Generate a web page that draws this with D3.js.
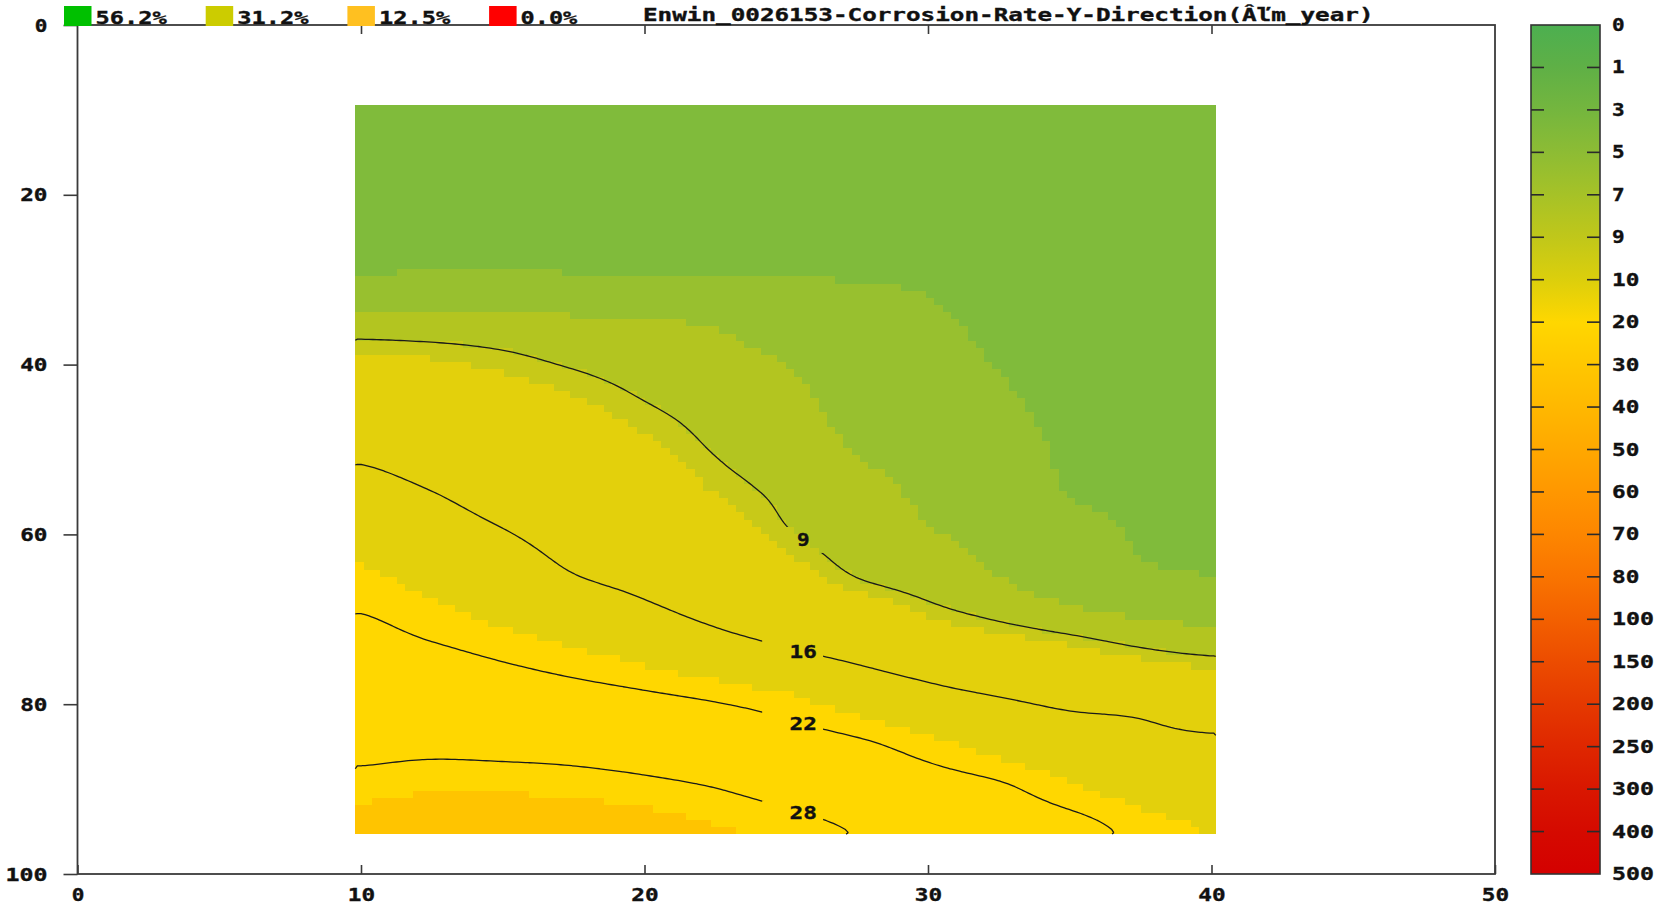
<!DOCTYPE html>
<html><head><meta charset="utf-8">
<script src="https://cdn.jsdelivr.net/npm/d3@7"></script>
<style>
html,body{margin:0;padding:0;background:#fff;}
svg{display:block;}
text{font-family:"DejaVu Sans Mono","Liberation Mono",monospace;font-weight:bold;font-size:17px;fill:#111;stroke:#111;stroke-width:0.35px;}
</style></head><body>
<svg id="chart" width="1659" height="908"></svg>
<script>
// ---------------- data ----------------
const titleText = "Enwin_0026153-Corrosion-Rate-Y-Direction(Âľm_year)";
const legendLabels = ["56.2%", "31.2%", "12.5%", "0.0%"];
const legendColors = ["#00c000", "#cccc00", "#ffc020", "#ff0000"];
const xTicks = [0, 10, 20, 30, 40, 50];
const yTicks = [0, 20, 40, 60, 80, 100];
const colorTicks = [0, 1, 3, 5, 7, 9, 10, 20, 30, 40, 50, 60, 70, 80, 100, 150, 200, 250, 300, 400, 500];
const colorbarColors = ["#4caf50", "#5fb046", "#74b63e", "#8dbc34", "#a6c227", "#c0c71a", "#dccf0c", "#ffd700", "#ffc700", "#ffb800", "#ffa800", "#ff9700", "#fd8600", "#f97400", "#f36000", "#ec4c00", "#e53900", "#df2700", "#d91700", "#d50a00", "#d40000"];
const bandColors = ["#4caf50", "#63b246", "#80bb3b", "#98c02f", "#b3c520", "#c8c918", "#e3d00c", "#ffd700", "#ffc400", "#ffb300", "#ffa400", "#ff9300", "#fd8200", "#f87000", "#f25c00", "#ea4800", "#e33500", "#dd2400", "#d81400", "#d50800", "#d40000"];
const contourLevels = [9, 16, 22, 28];

// measurement grid (x across, y down) and corrosion rate per column
const gridX = [10, 12.5, 15, 17.5, 20, 22.5, 25, 27.5, 30, 32.5, 35, 37.5, 40];
const gridY = [10, 15, 20, 25, 30, 35, 40, 45, 50, 55, 60, 65, 70, 75, 80, 85, 90, 95];
const rateX10   = [3.5, 3.85, 4.15, 4.5, 5.1, 7.88, 10.61, 12.95, 15.30, 17.16, 18.81, 20.49, 22.23, 23.87, 25.51, 27.15, 29.12, 31.4];
const rateX12_5 = [3.5, 3.85, 4.15, 4.5, 5.35, 7.77, 10.31, 12.22, 14.13, 16.03, 17.55, 19.06, 20.86, 23.06, 25.17, 27.28, 29.83, 32.6];
const rateX15   = [3.5, 3.85, 4.15, 4.5, 5.35, 7.64, 9.64, 11.31, 12.95, 14.59, 16.24, 17.92, 19.6, 22.0, 24.54, 27.08, 29.73, 32.4];
const rateX17_5 = [3.5, 3.9, 4.3, 4.7, 5.15, 7.28, 8.82, 10.45, 11.86, 13.27, 14.68, 16.14, 18.41, 20.91, 23.86, 26.78, 29.41, 31.9];
const rateX20   = [3.5, 3.9, 4.35, 4.8, 5.08, 7.05, 8.09, 9.17, 10.59, 12.08, 13.56, 15.05, 16.99, 19.75, 23.09, 26.12, 28.86, 31.1];
const rateX22_5 = [3.5, 3.9, 4.4, 4.9, 5.05, 6.85, 7.51, 8.19, 8.86, 9.93, 11.77, 13.66, 15.55, 18.34, 22.18, 25.13, 28.07, 30.26];
const rateX25   = [3.5, 3.9, 4.4, 4.9, 5.02, 6.07, 7.0, 7.52, 8.04, 8.56, 9.23, 11.29, 14.09, 17.08, 20.9, 23.94, 26.72, 29.25];
const rateX27_5 = [3.5, 3.85, 4.2, 4.6, 4.98, 5.47, 5.95, 6.43, 6.91, 7.61, 8.0, 8.95, 12.47, 15.8, 18.98, 22.76, 25.28, 27.8];
const rateX30   = [3.4, 3.76, 4.13, 4.49, 4.85, 5.22, 5.58, 5.95, 6.31, 6.68, 7.15, 7.9, 10.2, 14.38, 17.61, 20.88, 23.8, 26.0];
const rateX32_5 = [3.35, 3.61, 3.88, 4.14, 4.4, 4.67, 4.93, 5.31, 5.73, 6.15, 6.57, 6.99, 8.85, 12.92, 16.56, 19.13, 22.61, 24.8];
const rateX35   = [3.3, 3.48, 3.67, 3.85, 4.03, 4.21, 4.4, 4.58, 4.76, 4.95, 5.59, 6.0, 7.8, 11.58, 15.53, 17.98, 20.4, 23.4];
const rateX37_5 = [3.25, 3.42, 3.59, 3.75, 3.92, 4.09, 4.26, 4.43, 4.59, 4.76, 4.9, 5.3, 7.06, 10.24, 15.1, 17.06, 18.9, 21.2];
const rateX40   = [3.2, 3.37, 3.53, 3.7, 3.86, 4.03, 4.19, 4.36, 4.52, 4.69, 4.92, 5.05, 6.7, 9.47, 13.8, 16.8, 18.35, 19.93];
const rateColumns = [rateX10, rateX12_5, rateX15, rateX17_5, rateX20, rateX22_5, rateX25, rateX27_5, rateX30, rateX32_5, rateX35, rateX37_5, rateX40];

// ---------------- layout ----------------
const FR = {left: 77.5, right: 1495, top: 25, bottom: 874};
const CHAR_W = 14.65;
const svg = d3.select("#chart");
const x = d3.scaleLinear().domain([0, 50]).range([FR.left, FR.right]);
const y = d3.scaleLinear().domain([0, 100]).range([FR.top, FR.bottom]);
const tl = s => s.length * CHAR_W - 2;

// smooth (Catmull-Rom) surface through the measured grid
function cr(p0, p1, p2, p3, t) {
  return p1 + 0.5 * t * (p2 - p0 + t * (2 * p0 - 5 * p1 + 4 * p2 - p3 + t * (3 * (p1 - p2) + p3 - p0)));
}
function rateAt(px, py) {
  const nx = gridX.length, ny = gridY.length;
  const cx = Math.max(gridX[0], Math.min(gridX[nx - 1], px));
  const cy = Math.max(gridY[0], Math.min(gridY[ny - 1], py));
  const i = Math.max(0, Math.min(nx - 2, d3.bisectRight(gridX, cx) - 1));
  const j = Math.max(0, Math.min(ny - 2, d3.bisectRight(gridY, cy) - 1));
  const tx = (cx - gridX[i]) / (gridX[i + 1] - gridX[i]);
  const ty = (cy - gridY[j]) / (gridY[j + 1] - gridY[j]);
  const ci = k => Math.max(0, Math.min(nx - 1, k));
  const cj = k => Math.max(0, Math.min(ny - 1, k));
  const colV = k => {
    const c = rateColumns[ci(k)];
    return cr(c[cj(j - 1)], c[cj(j)], c[cj(j + 1)], c[cj(j + 2)], ty);
  };
  return cr(colV(i - 1), colV(i), colV(i + 1), colV(i + 2), tx);
}

// raster extent (slight padding around measurement grid)
const ext = {x0: gridX[0] - 0.2, x1: gridX[gridX.length - 1] + 0.15, y0: gridY[0] - 0.6, y1: gridY[gridY.length - 1] + 0.3};

// ---------------- raster fill ----------------
const NX = 104, NY = 102;
const dxs = (ext.x1 - ext.x0) / NX, dys = (ext.y1 - ext.y0) / NY;
const bandOf = v => Math.max(0, d3.bisectRight(colorTicks, v) - 1);
const runs = [];
for (let j = 0; j < NY; j++) {
  let start = 0, cur = -1;
  for (let i = 0; i <= NX; i++) {
    const b = i < NX ? bandOf(rateAt(ext.x0 + (i + 0.5) * dxs, ext.y0 + (j + 0.5) * dys)) : -2;
    if (b !== cur) {
      if (cur >= 0) runs.push({j, i0: start, i1: i, band: cur});
      cur = b; start = i;
    }
  }
}
svg.append("g").attr("shape-rendering", "crispEdges")
  .selectAll("rect").data(runs).join("rect")
  .attr("x", d => Math.round(x(ext.x0 + d.i0 * dxs)))
  .attr("y", d => Math.round(y(ext.y0 + d.j * dys)))
  .attr("width", d => Math.round(x(ext.x0 + d.i1 * dxs)) - Math.round(x(ext.x0 + d.i0 * dxs)))
  .attr("height", d => Math.round(y(ext.y0 + (d.j + 1) * dys)) - Math.round(y(ext.y0 + d.j * dys)))
  .attr("fill", d => bandColors[d.band]);

// ---------------- contour lines ----------------
const LX = 220, LY = 240;
const lx = (ext.x1 - ext.x0) / LX, ly = (ext.y1 - ext.y0) / LY;
const fine = new Float64Array(LX * LY);
for (let j = 0; j < LY; j++) for (let i = 0; i < LX; i++)
  fine[j * LX + i] = rateAt(ext.x0 + (i + 0.5) * lx, ext.y0 + (j + 0.5) * ly);
const lineSets = d3.contours().size([LX, LY]).smooth(true).thresholds(contourLevels)(fine);
function toPolylines(mp) {
  const out = [];
  const isB = p => p[0] === 0 || p[0] === LX || p[1] === 0 || p[1] === LY;
  for (const poly of mp.coordinates) for (const ring of poly) {
    let cur = [];
    for (let k = 0; k < ring.length - 1; k++) {
      const p = ring[k], q = ring[k + 1];
      if (isB(p) && isB(q)) { if (cur.length > 1) out.push(cur); cur = []; }
      else { if (!cur.length) cur.push(p); cur.push(q); }
    }
    if (cur.length > 1) out.push(cur);
  }
  return out;
}
const lineGen = d3.line().x(p => x(ext.x0 + p[0] * lx)).y(p => y(ext.y0 + p[1] * ly));

// label positions: where each level crosses the label column
const LABEL_X = 25.6;
const labels = contourLevels.map(lev => {
  let yy = null;
  for (let t = ext.y0; t <= ext.y1; t += 0.05) {
    if (rateAt(LABEL_X, t) >= lev) { yy = t; break; }
  }
  return {lev, yy};
}).filter(d => d.yy !== null);

const defs = svg.append("defs");
const mask = defs.append("mask").attr("id", "gapMask").attr("maskUnits", "userSpaceOnUse")
  .attr("x", 0).attr("y", 0).attr("width", 1659).attr("height", 908);
mask.append("rect").attr("width", 1659).attr("height", 908).attr("fill", "#fff");
mask.selectAll("rect.g").data(labels).join("rect").attr("class", "g")
  .attr("x", x(24.15)).attr("width", x(26.3) - x(24.15))
  .attr("y", d => y(d.yy) - 13).attr("height", 26).attr("fill", "#000");

const lg = svg.append("g").attr("mask", "url(#gapMask)");
lineSets.forEach(ls => {
  toPolylines(ls).forEach(pl => {
    lg.append("path").attr("d", lineGen(pl)).attr("fill", "none")
      .attr("stroke", "#1a1a1a").attr("stroke-width", 1.3);
  });
});
svg.append("g").selectAll("text").data(labels).join("text")
  .attr("x", x(LABEL_X)).attr("y", d => y(d.yy) + 6)
  .attr("text-anchor", "middle")
  .attr("textLength", d => tl(String(d.lev))).attr("lengthAdjust", "spacingAndGlyphs")
  .text(d => d.lev);

// ---------------- axes / frame ----------------
const axisColor = "#3a3a3a";
const gL = svg.append("g").attr("transform", `translate(${FR.left},0)`)
  .call(d3.axisLeft(y).tickValues(yTicks).tickSize(14).tickPadding(16));
const gB = svg.append("g").attr("transform", `translate(0,${FR.bottom})`)
  .call(d3.axisBottom(x).tickValues(xTicks).tickSizeInner(-9).tickSizeOuter(0).tickPadding(0));
const gT = svg.append("g").attr("transform", `translate(0,${FR.top})`)
  .call(d3.axisTop(x).tickValues(xTicks.slice(1, -1)).tickSizeInner(-9).tickSizeOuter(0).tickFormat(""));
[gL, gB, gT].forEach(g => {
  g.attr("font-family", null).attr("font-size", null);
  g.selectAll("path.domain").remove();
  g.selectAll(".tick line").attr("stroke", axisColor).attr("stroke-width", 1.6);
});
gL.selectAll(".tick text").attr("fill", "#111").attr("dy", null).attr("y", 6)
  .attr("textLength", d => tl(String(d))).attr("lengthAdjust", "spacingAndGlyphs");
gB.selectAll(".tick text").attr("fill", "#111").attr("dy", null).attr("y", 27)
  .attr("textLength", d => tl(String(d))).attr("lengthAdjust", "spacingAndGlyphs");
gT.selectAll(".tick text").remove();
svg.append("rect").attr("x", FR.left).attr("y", FR.top)
  .attr("width", FR.right - FR.left).attr("height", FR.bottom - FR.top)
  .attr("fill", "none").attr("stroke", axisColor).attr("stroke-width", 1.8);

// ---------------- title & legend ----------------
svg.append("text").attr("x", 643).attr("y", 21)
  .attr("textLength", tl(titleText)).attr("lengthAdjust", "spacingAndGlyphs")
  .text(titleText);
const leg = svg.append("g").selectAll("g").data(legendLabels).join("g")
  .attr("transform", (d, i) => `translate(${64 + i * 141.7},0)`);
leg.append("rect").attr("x", 0).attr("y", 6).attr("width", 27.5).attr("height", 20)
  .attr("fill", (d, i) => legendColors[i]);
leg.append("text").attr("x", 31.5).attr("y", 24)
  .attr("textLength", d => tl(d)).attr("lengthAdjust", "spacingAndGlyphs").text(d => d);

// ---------------- colorbar ----------------
const CB = {x: 1531, w: 69};
const cb = d3.scalePoint().domain(colorTicks.map(String)).range([FR.top, FR.bottom]);
const grad = defs.append("linearGradient").attr("id", "cbGrad")
  .attr("x1", 0).attr("y1", 0).attr("x2", 0).attr("y2", 1);
grad.selectAll("stop").data(colorTicks).join("stop")
  .attr("offset", (d, i) => i / (colorTicks.length - 1))
  .attr("stop-color", (d, i) => colorbarColors[i]);
svg.append("rect").attr("x", CB.x).attr("y", FR.top).attr("width", CB.w)
  .attr("height", FR.bottom - FR.top).attr("fill", "url(#cbGrad)")
  .attr("stroke", "#333").attr("stroke-width", 1.6);
const inner = colorTicks.slice(1, -1).map(String);
svg.append("g").selectAll("line.l").data(inner).join("line")
  .attr("x1", CB.x).attr("x2", CB.x + 13).attr("y1", d => cb(d)).attr("y2", d => cb(d))
  .attr("stroke", "#2a2a2a").attr("stroke-width", 1.6);
svg.append("g").selectAll("line.r").data(inner).join("line")
  .attr("x1", CB.x + CB.w - 13).attr("x2", CB.x + CB.w).attr("y1", d => cb(d)).attr("y2", d => cb(d))
  .attr("stroke", "#2a2a2a").attr("stroke-width", 1.6);
svg.append("g").selectAll("text").data(colorTicks.map(String)).join("text")
  .attr("x", 1612).attr("y", d => cb(d) + 6)
  .attr("textLength", d => tl(d)).attr("lengthAdjust", "spacingAndGlyphs")
  .text(d => d);
</script>
</body></html>
